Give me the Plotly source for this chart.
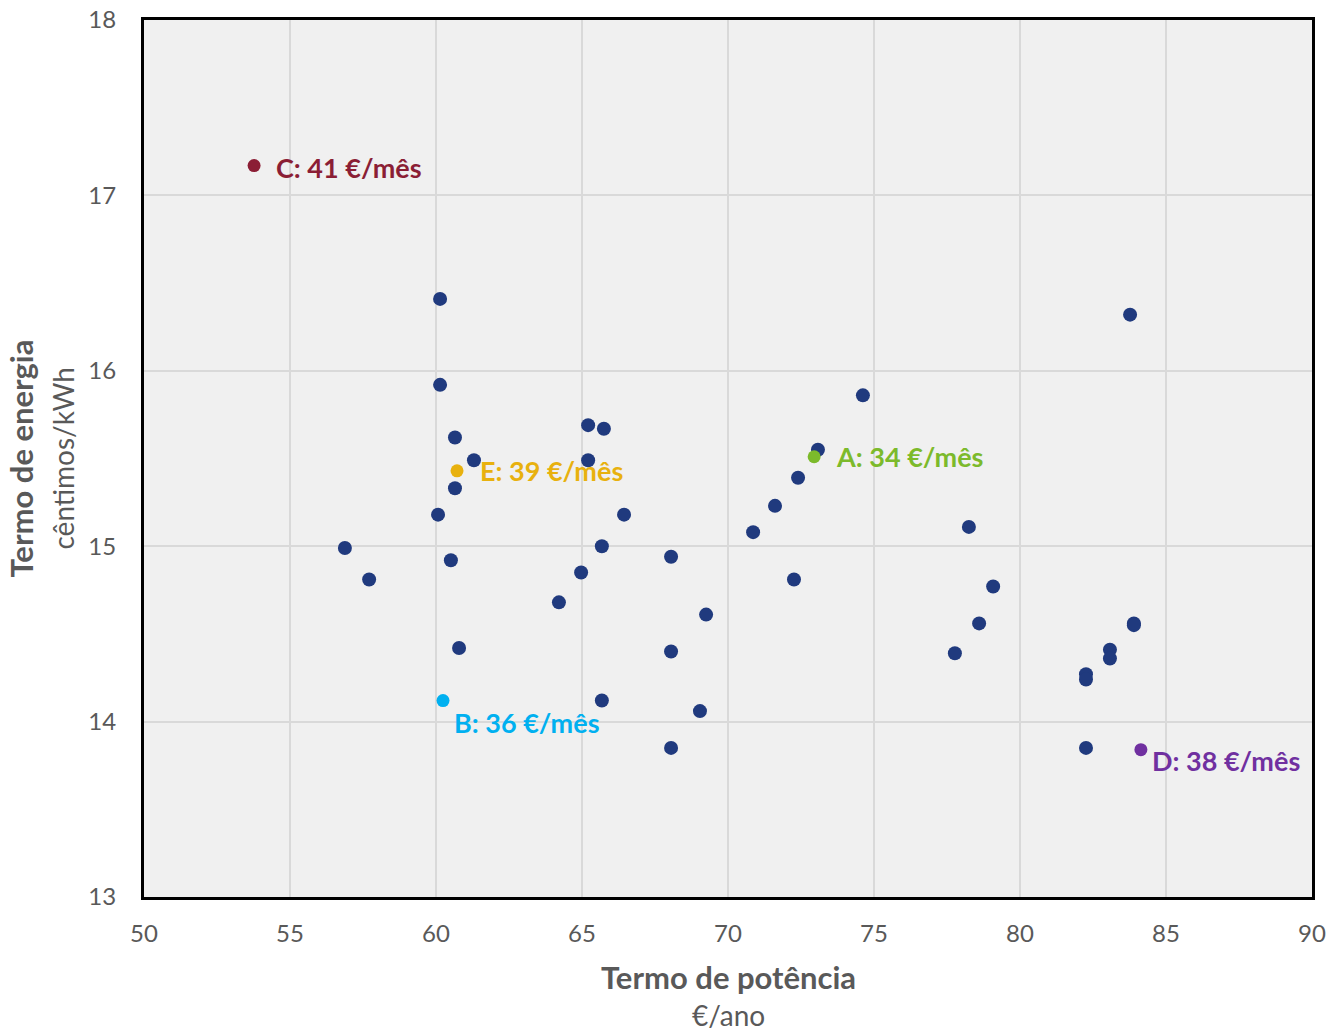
import plotly.graph_objects as go

# Termo de potência (€/ano) and termo de energia (cêntimos/kWh) for all offers
potencia = [
    60.14, 60.14, 60.65, 61.30, 60.65, 60.07, 56.88, 57.71, 60.51, 60.79,
    65.21, 65.75, 65.21, 66.44, 65.68, 64.97, 64.21, 68.05, 69.25, 68.05,
    65.68, 69.04, 68.05, 73.08, 72.40, 71.61, 70.86, 72.26, 74.62, 78.25,
    79.08, 78.60, 77.77, 83.77, 83.90, 83.90, 83.08, 83.08, 82.26, 82.26,
    82.26,
]
energia = [
    16.41, 15.92, 15.62, 15.49, 15.33, 15.18, 14.99, 14.81, 14.92, 14.42,
    15.69, 15.67, 15.49, 15.18, 15.00, 14.85, 14.68, 14.94, 14.61, 14.40,
    14.12, 14.06, 13.85, 15.55, 15.39, 15.23, 15.08, 14.81, 15.86, 15.11,
    14.77, 14.56, 14.39, 16.32, 14.56, 14.55, 14.41, 14.36, 14.27, 14.24,
    13.85,
]

# highlighted offers
destaque_nomes = ["A", "B", "C", "D", "E"]
destaque_custo = [34, 36, 41, 38, 39]
destaque_potencia = [72.95, 60.24, 53.77, 84.14, 60.72]
destaque_energia = [15.51, 14.12, 17.17, 13.84, 15.43]
destaque_cores = ["#7CBA2B", "#00B0F0", "#8B1E35", "#7030A0", "#E8B10E"]

# label offsets (px) relative to the point
label_shift = {
    "A": (20, 0, "middle"),
    "B": (9, -3, "top"),
    "C": (20, -2, "middle"),
    "D": (9, 8, "top"),
    "E": (21, 0, "middle"),
}

FONT = "Lato, 'Open Sans', sans-serif"
GREY = "#595959"

fig = go.Figure()

fig.add_trace(
    go.Scatter(
        x=potencia,
        y=energia,
        mode="markers",
        marker=dict(color="#203A7E", size=14),
        showlegend=False,
        hoverinfo="x+y",
    )
)

for nome, custo, px, py, cor in zip(
    destaque_nomes, destaque_custo, destaque_potencia, destaque_energia, destaque_cores
):
    fig.add_trace(
        go.Scatter(
            x=[px],
            y=[py],
            mode="markers",
            marker=dict(color=cor, size=13),
            showlegend=False,
            name=nome,
        )
    )
    xs, ys, ya = label_shift[nome]
    fig.add_annotation(
        x=px,
        y=py,
        text=f"<b>{nome}: {custo} €/mês</b>",
        showarrow=False,
        xanchor="left",
        yanchor=ya,
        xshift=xs,
        yshift=ys,
        font=dict(family=FONT, size=27, color=cor),
    )

# axis titles as annotations so they sit exactly where they should
title_font_bold = dict(family=FONT, size=31, color=GREY)
title_font = dict(family=FONT, size=28, color=GREY)
fig.add_annotation(
    text="<b>Termo de potência</b>", xref="paper", yref="paper", x=0.5, y=0,
    xanchor="center", yanchor="middle", yshift=-80, showarrow=False,
    font=title_font_bold,
)
fig.add_annotation(
    text="€/ano", xref="paper", yref="paper", x=0.5, y=0,
    xanchor="center", yanchor="middle", yshift=-118, showarrow=False,
    font=title_font,
)
fig.add_annotation(
    text="<b>Termo de energia</b>", xref="paper", yref="paper", x=0, y=0.5,
    xanchor="center", yanchor="middle", xshift=-124, textangle=-90,
    showarrow=False, font=title_font_bold,
)
fig.add_annotation(
    text="cêntimos/kWh", xref="paper", yref="paper", x=0, y=0.5,
    xanchor="center", yanchor="middle", xshift=-82, textangle=-90,
    showarrow=False, font=title_font,
)

axis_common = dict(
    showline=True,
    linecolor="black",
    linewidth=3,
    mirror=True,
    showgrid=True,
    gridcolor="#D9D9D9",
    gridwidth=2,
    zeroline=False,
    ticks="",
    automargin=False,
    tickfont=dict(family=FONT, size=24, color=GREY),
)

fig.update_layout(
    width=1328,
    height=1032,
    margin=dict(l=144, r=16, t=20, b=135),
    paper_bgcolor="white",
    plot_bgcolor="#F0F0F0",
    font=dict(family=FONT, color=GREY),
    xaxis=dict(range=[50, 90], dtick=5, ticklabelstandoff=13, **axis_common),
    yaxis=dict(range=[13, 18], dtick=1, ticklabelstandoff=20, **axis_common),
)

# drop the default page margin so the figure fills the window exactly
fig.write_html(
    "out.html",
    config={"displayModeBar": False},
    post_script="document.body.style.margin='0';document.body.style.overflow='hidden';",
)
